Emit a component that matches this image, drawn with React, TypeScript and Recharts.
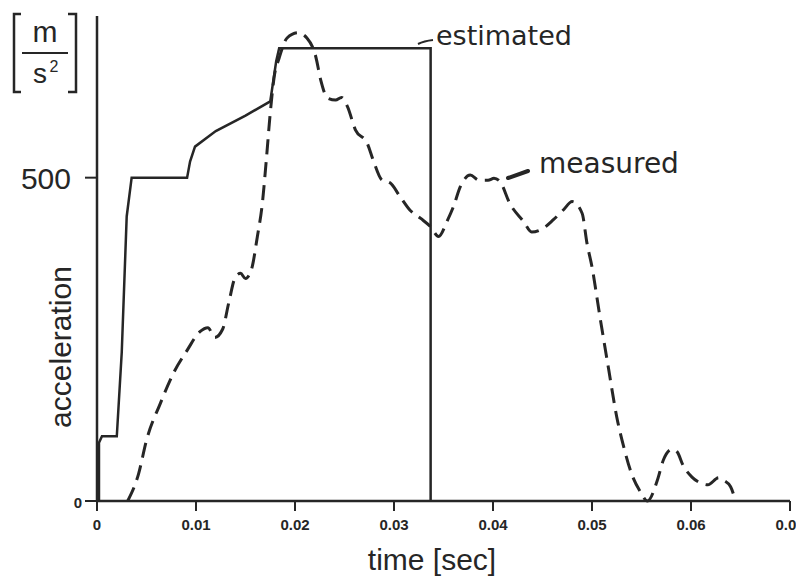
import { LineChart, Line, XAxis, YAxis } from "recharts";

// estimated (solid) curve
const estT = [0.0002, 0.0002, 0.0005, 0.002, 0.0025, 0.003, 0.0035, 0.0091, 0.0094, 0.0099, 0.012, 0.015, 0.0175, 0.0181, 0.0184, 0.0337, 0.0337];
const estA = [0, 90, 100, 100, 230, 440, 500, 500, 525, 548, 572, 596, 618, 680, 700, 700, 0];

// measured (dashed) curve
const measT = [
  0.0031, 0.0042, 0.005, 0.0064, 0.0077, 0.0091, 0.0104, 0.0112, 0.0119, 0.0127,
  0.0133, 0.014, 0.0145, 0.015, 0.0156, 0.0162, 0.0167, 0.0171, 0.0175, 0.0179,
  0.0184, 0.0192, 0.0203, 0.0212, 0.0221, 0.0226, 0.0233, 0.0241, 0.0247, 0.0253,
  0.0261, 0.0273, 0.0279, 0.0288, 0.0296, 0.0306, 0.0316, 0.0327, 0.0337, 0.0345,
  0.0354, 0.036, 0.0367, 0.0377, 0.0386, 0.0395, 0.0401, 0.0407, 0.0417, 0.0431,
  0.0439, 0.0451, 0.0461, 0.0471, 0.048, 0.049, 0.0495, 0.05, 0.0508, 0.0517,
  0.0525, 0.0532, 0.054, 0.0549, 0.0556, 0.0566, 0.0572, 0.0581, 0.0586, 0.0592,
  0.0601, 0.0611, 0.0617, 0.0628, 0.0633, 0.064, 0.0645,
];
const measA = [
  0, 42, 94, 151, 197, 233, 262, 268, 253, 266,
  306, 347, 352, 344, 358, 409, 460, 527, 600, 656,
  685, 716, 724, 716, 687, 651, 623, 620, 624, 610,
  574, 553, 527, 496, 492, 471, 450, 437, 424, 409,
  434, 455, 486, 504, 496, 496, 499, 494, 460, 432,
  416, 422, 435, 450, 463, 445, 398, 362, 285, 202,
  130, 84, 42, 14, 0, 32, 63, 80, 76, 55,
  37, 27, 25, 36, 32, 22, 0,
];

const xTicks = [0, 0.01, 0.02, 0.03, 0.04, 0.05, 0.06, 0.07];
const yTicks = [0, 500];

const estimated = estT.map((t, i) => ({ t, a: estA[i] }));
const measured = measT.map((t, i) => ({ t, a: measA[i] }));

const ink = "#262626";
const sans = "'Liberation Sans', Arial, sans-serif";
const round = "'DejaVu Sans', sans-serif";

const YTick = (props: any) => {
  const { x, y, payload } = props;
  if (payload.value === 500) {
    return (
      <text x={x - 12} y={y + 11} textAnchor="end" fontSize={30} fontFamily={sans} fill={ink}>
        500
      </text>
    );
  }
  return (
    <text x={x - 1} y={y + 7} textAnchor="end" fontSize={15} fontWeight={700} fontFamily={sans} fill={ink}>
      {payload.value}
    </text>
  );
};

export default function App() {
  return (
    <div style={{ position: "relative", width: 804, height: 581, marginLeft: -8, marginTop: -8, background: "#fff" }}>
      <LineChart
        width={804}
        height={581}
        margin={{ top: 16, right: 14, bottom: 50, left: 0 }}
      >
        <XAxis
          dataKey="t"
          type="number"
          domain={[0, 0.07]}
          ticks={xTicks}
          height={30}
          allowDuplicatedCategory={false}
          axisLine={{ stroke: ink, strokeWidth: 2.5 }}
          tickLine={{ stroke: ink, strokeWidth: 2 }}
          tickSize={10}
          tickMargin={8}
          tick={{ fontSize: 15, fontWeight: 700, fill: ink, fontFamily: sans }}
        />
        <YAxis
          type="number"
          domain={[0, 750]}
          ticks={yTicks}
          width={97}
          axisLine={{ stroke: ink, strokeWidth: 2.5 }}
          tickLine={{ stroke: ink, strokeWidth: 2 }}
          tickSize={12}
          tick={YTick}
        />
        <Line
          data={estimated}
          dataKey="a"
          type="linear"
          stroke={ink}
          strokeWidth={2.5}
          dot={false}
          isAnimationActive={false}
        />
        <Line
          data={measured}
          dataKey="a"
          type="monotone"
          stroke={ink}
          strokeWidth={3}
          strokeDasharray="15 8"
          dot={false}
          isAnimationActive={false}
        />
      </LineChart>
      <svg
        width={804}
        height={581}
        style={{ position: "absolute", left: 0, top: 0, pointerEvents: "none" }}
      >
        {/* unit label [m/s²] */}
        <path d="M21 14 H14 V92 H21" fill="none" stroke={ink} strokeWidth={2.5} />
        <path d="M68 14 H76 V92 H68" fill="none" stroke={ink} strokeWidth={2.5} />
        <text x={45} y={42} textAnchor="middle" fontSize={30} fontFamily={sans} fill={ink}>m</text>
        <line x1={22} y1={53} x2={68} y2={53} stroke={ink} strokeWidth={2} />
        <text x={40} y={83} textAnchor="middle" fontSize={28} fontFamily={sans} fill={ink}>s</text>
        <text x={54} y={72} textAnchor="middle" fontSize={16} fontFamily={sans} fill={ink}>2</text>

        <text
          x={71}
          y={347}
          transform="rotate(-90 71 347)"
          textAnchor="middle"
          fontSize={30}
          fontFamily={sans}
          fill={ink}
        >
          acceleration
        </text>
        <text x={432} y={570} textAnchor="middle" fontSize={30} fontFamily={sans} fill={ink}>
          time [sec]
        </text>

        <path d="M418 44 Q424 41 433 40" fill="none" stroke={ink} strokeWidth={2} />
        <text x={436} y={45} fontSize={27} fontFamily={round} fill={ink}>estimated</text>
        <line x1={508} y1={178} x2={528} y2={171} stroke={ink} strokeWidth={4} strokeLinecap="round" />
        <text x={539} y={173} fontSize={28} fontFamily={round} fill={ink}>measured</text>
      </svg>
    </div>
  );
}
